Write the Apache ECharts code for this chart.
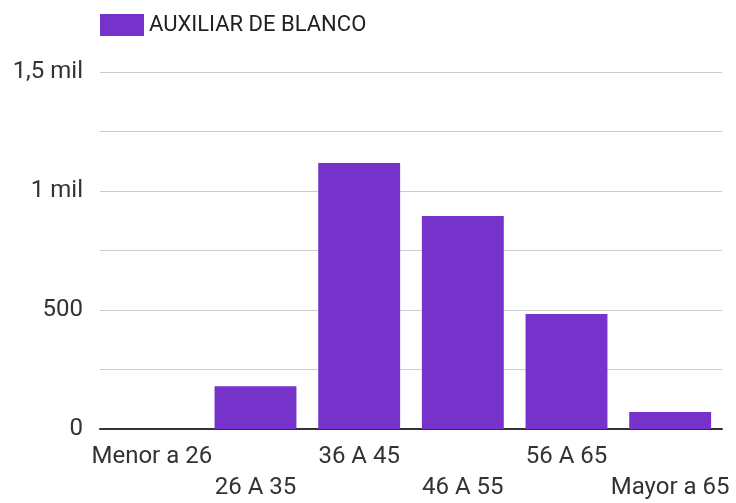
<!DOCTYPE html>
<html lang="es">
<head>
    <meta charset="UTF-8">
    <title>Auxiliar de blanco</title>
    <script src="https://cdn.jsdelivr.net/npm/echarts@6.0.0/dist/echarts.min.js"></script>
    <style>
        html, body { margin: 0; padding: 0; background: #fff; }
        #grafica { width: 736px; height: 503px; }
    </style>
</head>
<body>
    <div id="grafica"></div>
    <script>
        // Datos
        let categorias = ['Menor a 26', '26 A 35', '36 A 45', '46 A 55', '56 A 65', 'Mayor a 65'];
        let valores = [0, 180, 1118, 895, 483, 71];
        let nombreSerie = 'AUXILIAR DE BLANCO';
        let etiquetasY = { 0: '0', 500: '500', 1000: '1 mil', 1500: '1,5 mil' };

        let myChart = echarts.init(document.getElementById('grafica'));

        let option = {
            animation: false,
            textStyle: { fontFamily: 'Roboto' },
            legend: {
                left: 100,
                top: 14,
                padding: 0,
                itemWidth: 44,
                itemHeight: 22,
                itemGap: 20,
                icon: 'rect',
                textStyle: { fontSize: 22, color: '#222' },
                data: [nombreSerie]
            },
            grid: {
                left: 100,
                right: 14,
                top: 72,
                bottom: 74,
                containLabel: false
            },
            xAxis: {
                type: 'category',
                data: categorias,
                axisTick: { show: false },
                axisLine: { lineStyle: { color: '#333', width: 2 } },
                axisLabel: {
                    interval: 0,
                    color: '#333',
                    fontSize: 24,
                    lineHeight: 31,
                    margin: 12,
                    formatter: function (v, i) {
                        return i % 2 === 1 ? '\n' + v : v;
                    }
                }
            },
            yAxis: {
                type: 'value',
                min: 0,
                max: 1500,
                interval: 250,
                axisLine: { show: false },
                axisTick: { show: false },
                splitLine: { lineStyle: { color: '#ccc', width: 1 } },
                axisLabel: {
                    color: '#333',
                    fontSize: 24,
                    margin: 17,
                    formatter: function (v) {
                        return etiquetasY[v] !== undefined ? etiquetasY[v] : '';
                    }
                }
            },
            series: [
                {
                    name: nombreSerie,
                    type: 'bar',
                    data: valores,
                    barCategoryGap: '21%',
                    itemStyle: { color: '#7633cc' }
                }
            ]
        };

        myChart.setOption(option);
    </script>
</body>
</html>
